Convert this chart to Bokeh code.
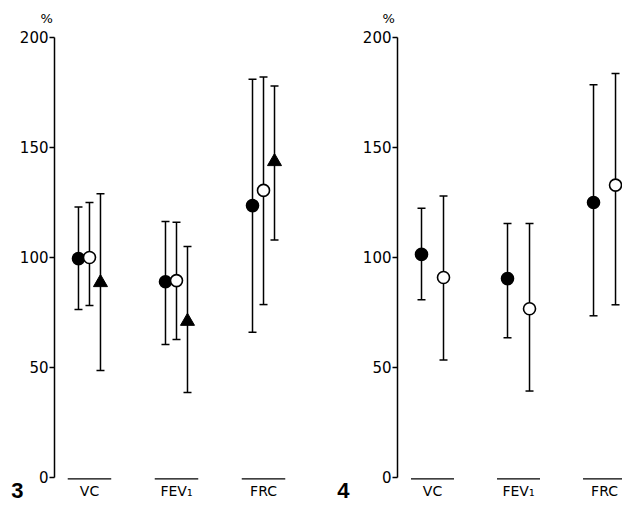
from bokeh.plotting import figure
from bokeh.layouts import row
from bokeh.models import (Range1d, ColumnDataSource, Whisker, TeeHead, FixedTicker,
                          Title, LinearAxis)
from bokeh.core.properties import value
from bokeh.embed import file_html
from bokeh.resources import INLINE

categories = ["VC", "FEV\u2081", "FRC"]
cat_pos = [1, 2, 3]
y_ticks = [0, 50, 100, 150, 200]

# Figure 3
f3_filled_mean = [99.5, 89.0, 123.6]
f3_filled_upper = [123.0, 116.4, 181.0]
f3_filled_lower = [76.4, 60.5, 66.0]
f3_open_mean = [100.0, 89.5, 130.5]
f3_open_upper = [125.0, 116.0, 182.0]
f3_open_lower = [78.2, 62.7, 78.6]
f3_tri_mean = [88.6, 71.0, 143.6]
f3_tri_upper = [129.0, 105.0, 178.0]
f3_tri_lower = [48.6, 38.6, 108.0]

# Figure 4
f4_filled_mean = [101.4, 90.4, 125.0]
f4_filled_upper = [122.4, 115.5, 178.5]
f4_filled_lower = [80.8, 63.5, 73.5]
f4_open_mean = [90.9, 76.7, 132.9]
f4_open_upper = [127.9, 115.5, 183.6]
f4_open_lower = [53.4, 39.3, 78.5]

FONT = "DejaVu Sans"


def make_panel(series, width, border_left, x_start, x_end, number, num_standoff, pct_offset):
    p = figure(width=width, height=507, output_backend="svg", toolbar_location=None,
               x_range=Range1d(x_start, x_end), y_range=Range1d(-13.64, 205.0),
               x_axis_location=None,
               min_border_left=border_left, min_border_right=0,
               min_border_top=26, min_border_bottom=0)
    p.outline_line_color = None
    p.xgrid.grid_line_color = None
    p.ygrid.grid_line_color = None
    p.background_fill_color = "white"
    p.border_fill_color = "white"

    t = Title(text="%", align="left", offset=pct_offset, standoff=2,
              text_font=FONT, text_font_size="13px", text_font_style="normal",
              text_color="black")
    p.add_layout(t, "above")

    ya = p.yaxis[0]
    ya.ticker = FixedTicker(ticks=y_ticks)
    ya.bounds = (0, 200)
    ya.axis_line_width = 1.5
    ya.axis_line_color = "black"
    ya.major_tick_line_width = 1.3
    ya.major_tick_out = 5
    ya.major_tick_in = 0
    ya.minor_tick_line_color = None
    ya.major_label_text_font = FONT
    ya.major_label_text_font_size = "15px"
    ya.major_label_text_color = "black"
    ya.major_label_standoff = 1

    # figure number, as a second left axis with a single labelled tick
    na = LinearAxis(ticker=FixedTicker(ticks=[-6]), major_label_overrides={-6: number},
                    axis_line_color=None, major_tick_line_color=None,
                    minor_tick_line_color=None, major_tick_out=0, major_tick_in=0,
                    major_label_text_font="Liberation Sans",
                    major_label_text_font_size="22px",
                    major_label_text_font_style="bold",
                    major_label_text_color="black",
                    major_label_standoff=num_standoff)
    p.add_layout(na, "left")

    # overlines above category labels (mean notation)
    p.segment(x0=[c - 0.25 for c in cat_pos], x1=[c + 0.25 for c in cat_pos],
              y0=[-0.6] * 3, y1=[-0.6] * 3, line_color="black", line_width=1.3)
    # category labels
    p.text(x=cat_pos, y=[-6.2] * 3, text=categories, text_font=value(FONT),
           text_font_size="14px", text_color="black", text_align="center",
           text_baseline="middle")

    for mean, upper, lower, marker, fill, off in series:
        xs = [c + off for c in cat_pos]
        src = ColumnDataSource(dict(x=xs, mean=mean, upper=upper, lower=lower))
        w = Whisker(source=src, base="x", upper="upper", lower="lower",
                    line_color="black", line_width=1.5,
                    upper_head=TeeHead(size=8, line_width=1.5, line_color="black"),
                    lower_head=TeeHead(size=8, line_width=1.5, line_color="black"))
        p.add_layout(w)
        if marker == "triangle":
            p.scatter("x", "mean", source=src, marker="triangle", size=14,
                      fill_color="black", line_color="black", line_width=1)
        else:
            p.scatter("x", "mean", source=src, marker="circle", size=12,
                      fill_color=fill, line_color="black", line_width=1.6)
    return p


off3 = 11 / 87
p3 = make_panel([
    (f3_filled_mean, f3_filled_upper, f3_filled_lower, "circle", "black", -off3),
    (f3_open_mean, f3_open_upper, f3_open_lower, "circle", "white", 0.0),
    (f3_tri_mean, f3_tri_upper, f3_tri_lower, "triangle", "black", off3),
], width=318, border_left=54, x_start=0.598, x_end=3.632, number="3",
   num_standoff=-7, pct_offset=-14)

off4 = 11 / 86
p4 = make_panel([
    (f4_filled_mean, f4_filled_upper, f4_filled_lower, "circle", "black", -off4),
    (f4_open_mean, f4_open_upper, f4_open_lower, "circle", "white", off4),
], width=304, border_left=79, x_start=0.593, x_end=3.209, number="4",
   num_standoff=10, pct_offset=-15)

layout = row(p3, p4)
open("out.html", "w").write(file_html(layout, INLINE))
